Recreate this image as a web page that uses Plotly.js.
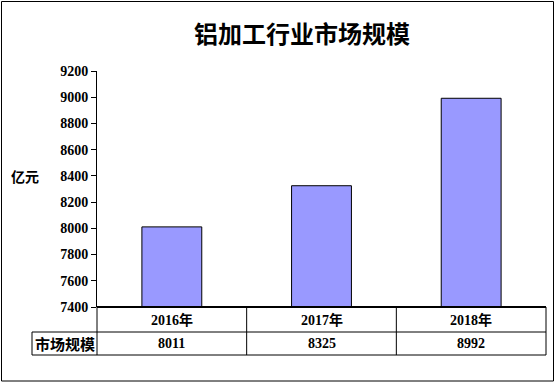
<!DOCTYPE html>
<html>
<head>
<meta charset="utf-8">
<script src="https://cdn.plot.ly/plotly-3.0.1.min.js"></script>
<style>
html,body{margin:0;padding:0;background:#fff;}
#chart{width:555px;height:383px;}
</style>
</head>
<body>
<div id="chart"></div>
<script>
const categories = ["2016年", "2017年", "2018年"];
const values = [8011, 8325, 8992];
const seriesName = "市场规模";
const chartTitle = "铝加工行业市场规模";
const yUnit = "亿元";
const yTickVals = [7400, 7600, 7800, 8000, 8200, 8400, 8600, 8800, 9000, 9200];

const FONT = "'Liberation Serif', 'Times New Roman', 'Noto Sans CJK SC', serif";
const CJK = "'Noto Sans CJK SC', 'Liberation Serif', sans-serif";

// plot area pixel geometry
const W = 555, H = 383;
const L = 97, R = 546, T = 71, B = 307;
const pw = R - L, ph = B - T;
const px = X => (X - L) / pw;
const py = Y => (B - Y) / ph;

const trace = {
  type: "bar",
  x: categories,
  y: values,
  name: seriesName,
  width: 0.4,
  marker: {color: "#9999FF", line: {color: "#000000", width: 1}},
  hoverinfo: "x+y"
};

const row1 = py((307 + 332) / 2);
const row2 = py((332 + 355) / 2);
const labelLeft = px(32);

const shapes = [];
const line = (x0, y0, x1, y1, w) => shapes.push({type: "line", xref: "paper", yref: "paper", x0, y0, x1, y1, line: {color: "#000", width: w || 1}});
// table grid
line(0, 0, 1, 0, 2);
line(labelLeft, py(332), 1, py(332), 1);
line(labelLeft, py(355), 1, py(355), 1);
line(0, 0, 0, py(355), 1);
line(labelLeft, py(332), labelLeft, py(355), 1);
[1/3, 2/3, 1].forEach(f => line(f, 0, f, py(355), 1));
// outer border
shapes.push({type: "rect", xref: "paper", yref: "paper", x0: px(1.5), x1: px(553.5), y0: py(381), y1: py(1.5), line: {color: "#000", width: 1}, fillcolor: "rgba(0,0,0,0)"});

const annotations = [];
categories.forEach((c, i) => {
  annotations.push({xref: "x", yref: "paper", x: c, y: row1, text: c, showarrow: false,
    font: {family: FONT, size: 14, color: "#000", weight: "bold"}, xanchor: "center", yanchor: "middle"});
  annotations.push({xref: "x", yref: "paper", x: c, y: row2, text: String(values[i]), showarrow: false,
    font: {family: FONT, size: 14, color: "#000", weight: "bold"}, xanchor: "center", yanchor: "middle"});
});
annotations.push({xref: "paper", yref: "paper", x: (labelLeft + 0) / 2, y: row2, text: seriesName, showarrow: false,
  font: {family: CJK, size: 15, color: "#000", weight: "bold"}, xanchor: "center", yanchor: "middle"});
annotations.push({xref: "paper", yref: "paper", x: px(25), y: py(176), text: yUnit, showarrow: false,
  font: {family: CJK, size: 14, color: "#000", weight: "bold"}, xanchor: "center", yanchor: "middle"});

const layout = {
  width: W, height: H,
  margin: {l: L, r: W - R, t: T, b: H - B, pad: 0},
  paper_bgcolor: "#fff", plot_bgcolor: "#fff",
  showlegend: false,
  title: {text: chartTitle, x: 302 / W, xanchor: "center", y: 1 - 35 / H, yanchor: "middle",
    font: {family: CJK, size: 24, color: "#000", weight: "bold"}},
  xaxis: {type: "category", showticklabels: false, showline: false, showgrid: false, zeroline: false, ticks: "", range: [-0.5, 2.5]},
  yaxis: {range: [7400, 9200], tickvals: yTickVals, showgrid: false, zeroline: false,
    showline: true, linecolor: "#000", linewidth: 1, ticks: "outside", ticklen: 5, tickcolor: "#000", tickwidth: 1,
    tickfont: {family: FONT, size: 14, color: "#000", weight: "bold"}},
  shapes, annotations
};

Plotly.newPlot("chart", [trace], layout, {displayModeBar: false, staticPlot: true});
</script>
</body>
</html>
